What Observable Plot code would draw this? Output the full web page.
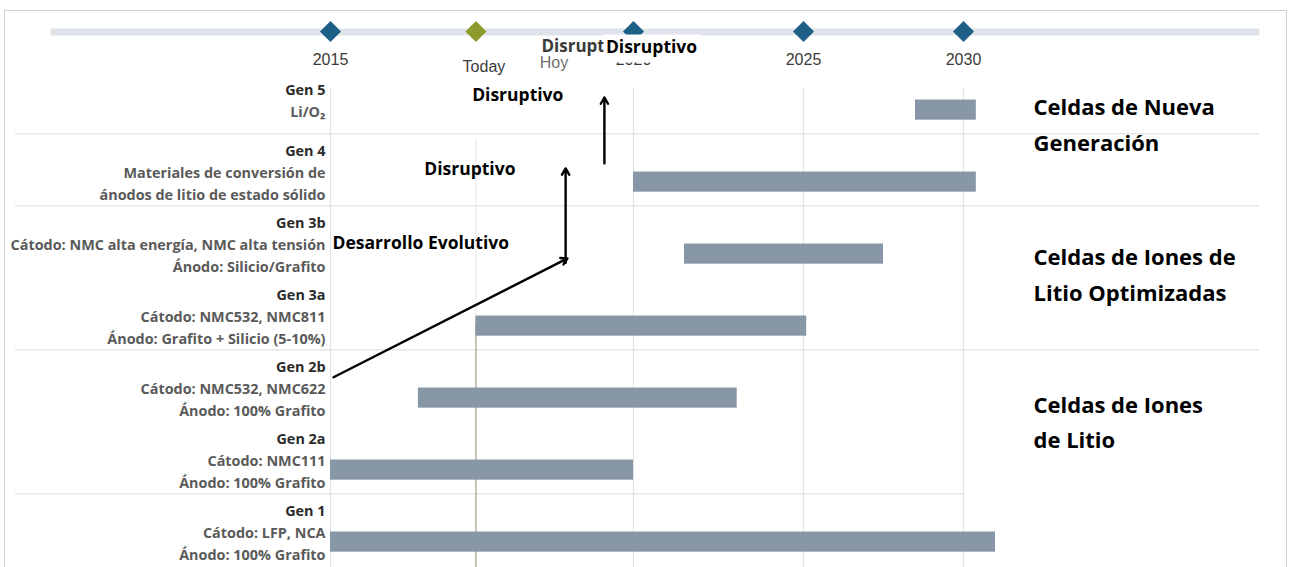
<!DOCTYPE html>
<html><head><meta charset="utf-8">
<script src="https://cdn.jsdelivr.net/npm/d3@7"></script>
<script src="https://cdn.jsdelivr.net/npm/@observablehq/plot@0.6"></script>
<style>
html,body{margin:0;padding:0;background:#fff;overflow:hidden;}
#wrap{position:relative;width:1289px;height:567px;overflow:hidden;}
#wrap svg{position:absolute;left:0;top:0;}
#border{position:absolute;left:4px;top:10px;width:1283px;height:600px;border:1px solid #cfcfcf;border-bottom:none;box-sizing:border-box;z-index:2;pointer-events:none;}
</style></head><body><div id="wrap"><div id="border"></div></div>
<script>
// ---- data ----
const generations = ["Gen 5", "Gen 4", "Gen 3b", "Gen 3a", "Gen 2b", "Gen 2a", "Gen 1"];
const details = [
  ["Li/O₂"],
  ["Materiales de conversión de", "ánodos de litio de estado sólido"],
  ["Cátodo: NMC alta energía, NMC alta tensión", "Ánodo: Silicio/Grafito"],
  ["Cátodo: NMC532, NMC811", "Ánodo: Grafito + Silicio (5-10%)"],
  ["Cátodo: NMC532, NMC622", "Ánodo: 100% Grafito"],
  ["Cátodo: NMC111", "Ánodo: 100% Grafito"],
  ["Cátodo: LFP, NCA", "Ánodo: 100% Grafito"]
];
const startYear = [2028.5, 2020, 2021.5, 2017.4, 2016.45, 2015, 2015];
const endYear   = [2030.4, 2030.4, 2027.5, 2025.1, 2023.05, 2020, 2031];

const today = 2017.4;
const milestoneLabels = ["2015", "2020", "2025", "2030"];
const milestoneYears = [2015, 2020, 2025, 2030];
const gridYears = [2015, 2020, 2025, 2030];

const groupLabels = ["Celdas de Nueva\nGeneración", "Celdas de Iones de\nLitio Optimizadas", "Celdas de Iones\nde Litio"];
const groupRows = [0.16, 2.24, 4.29];

const noteTexts = ["Disruptivo", "Disruptivo", "Desarrollo Evolutivo"];
const noteYears = [2018.09, 2017.30, 2016.49];
const noteRows = [-0.2, 0.825, 1.85];

const arrowFromYear = [2015.05, 2018.88, 2019.52];
const arrowFromRow  = [3.71, 2.12, 0.74];
const arrowToYear   = [2018.91, 2018.88, 2019.52];
const arrowToRow    = [2.06, 0.81, -0.175];

const separatorAfter = ["Gen 5", "Gen 4", "Gen 3a"];
const shortSeparatorAfter = ["Gen 2a"];
const separatorStart = 2009.8;

// ---- tables ----
const rows = generations.map((g, i) => ({gen: g, i, details: details[i], start: startYear[i], end: endYear[i]}));
const milestones = milestoneLabels.map((l, i) => ({label: l, year: milestoneYears[i]}));
const groups = groupLabels.map((l, i) => ({label: l, row: groupRows[i]}));
const notes = noteTexts.map((t, i) => ({text: t, year: noteYears[i], row: noteRows[i]}));
const arrows = arrowFromYear.map((d, i) => ({x1: d, y1: arrowFromRow[i], x2: arrowToYear[i], y2: arrowToRow[i]}));
const rowIndex = g => generations.indexOf(g);

const barHalf = 0.14;
const sepOffset = 0.33;
const labelFont = "'Open Sans', Lato, sans-serif";
const axisFont = "'Liberation Sans', Arial, sans-serif";

const chart = Plot.plot({
  width: 1289, height: 567, margin: 0,
  x: {type: "linear", domain: [2015, 2020, 2025, 2030], range: [330, 633, 803, 963], axis: null},
  y: {type: "linear", domain: [-0.5, 6.5], range: [73.6, 577.6], axis: null},
  style: {background: "white", overflow: "visible", fontFamily: labelFont},
  marks: [
    // horizontal separators
    Plot.ruleY(separatorAfter, {y: d => rowIndex(d) + sepOffset, insetLeft: 15, insetRight: 30, stroke: "#e6e6e6", strokeWidth: 1.5}),
    Plot.ruleY(shortSeparatorAfter, {y: d => rowIndex(d) + sepOffset, x1: separatorStart, x2: 2030, stroke: "#e6e6e6", strokeWidth: 1.5}),
    // vertical grid
    Plot.ruleX(gridYears, {x: d => d, y1: -0.3, y2: 6.5, stroke: "#e2e2e2", strokeWidth: 1.2}),
    Plot.ruleX([today], {x: d => d, y1: 0.4, y2: 2.95, stroke: "#e8e8e8", strokeWidth: 1}),
    Plot.ruleX([today], {x: d => d, y1: 2.95, y2: 6.5, stroke: "#a39f78", strokeWidth: 1.2}),
    // bars
    Plot.rect(rows, {x1: "start", x2: "end", y1: d => d.i - barHalf, y2: d => d.i + barHalf, fill: "#8797a8"}),
    // row labels
    Plot.text(rows, {y: "i", frameAnchor: "left", dx: 325, textAnchor: "end", lineAnchor: "middle", dy: -11,
      text: d => [" ", ...d.details].join("\n"), fill: "#5a5a5a", fontWeight: "bold", fontSize: 14.4, lineHeight: 22 / 14.4}),
    Plot.text(rows, {y: "i", frameAnchor: "left", dx: 325, textAnchor: "end", lineAnchor: "middle", dy: -11,
      text: d => [d.gen, ...d.details.map(() => " ")].join("\n"), fill: "#2b2b2b", fontWeight: "bold", fontSize: 14.4, lineHeight: 22 / 14.4}),
    // group labels
    Plot.text(groups, {y: "row", text: "label", frameAnchor: "left", dx: 1033, textAnchor: "start", lineAnchor: "middle",
      fontSize: 22, fontWeight: "bold", lineHeight: 36 / 22, fill: "#000"}),
    // annotations
    Plot.text(notes, {x: "year", y: "row", text: "text", fontSize: 17.5, fontWeight: "bold", fill: "#000"}),
    Plot.arrow(arrows, {x1: "x1", y1: "y1", x2: "x2", y2: "y2", stroke: "#000", strokeWidth: 2.4, headLength: 4.5}),
    // top timeline strip
    Plot.frame({fill: "#dfe4ea", stroke: null, insetLeft: 50, insetRight: 30, insetTop: 28, insetBottom: 532}),
    Plot.dot(milestones, {x: "year", frameAnchor: "top", dy: 31, symbol: "diamond2", r: 9.5, fill: "#1d5f87"}),
    Plot.dot([today], {x: d => d, frameAnchor: "top", dy: 31, symbol: "diamond2", r: 9.5, fill: "#8c9a2e"}),
    Plot.text(milestones, {x: "year", text: "label", frameAnchor: "top", lineAnchor: "middle", dy: 59, fontFamily: axisFont, fontSize: 16, fill: "#3a3a3a"}),
    Plot.text(["Today"], {x: today, text: d => d, frameAnchor: "top", lineAnchor: "middle", dy: 66, dx: 8, fontFamily: axisFont, fontSize: 16, fill: "#3a3a3a"}),
    Plot.text(["Hoy"], {x: today, text: d => d, frameAnchor: "top", lineAnchor: "middle", dy: 62, dx: 78, fontFamily: axisFont, fontSize: 16, fill: "#707070"}),
    Plot.text(["Disruptivo"], {x: 2020, text: d => d, frameAnchor: "top", lineAnchor: "middle", dy: 46, dx: -92, textAnchor: "start", fontSize: 17, fontWeight: "bold", fill: "#3a3a3a"}),
    Plot.frame({fill: "white", stroke: null, insetLeft: 603, insetRight: 589, insetTop: 34, insetBottom: 505}),
    Plot.text(["Disruptivo"], {x: 2020, text: d => d, frameAnchor: "top", lineAnchor: "middle", dy: 47, dx: 18, fontSize: 17.5, fontWeight: "bold", fill: "#000"})
  ]
});
document.getElementById("wrap").appendChild(chart);
</script>
</body></html>
